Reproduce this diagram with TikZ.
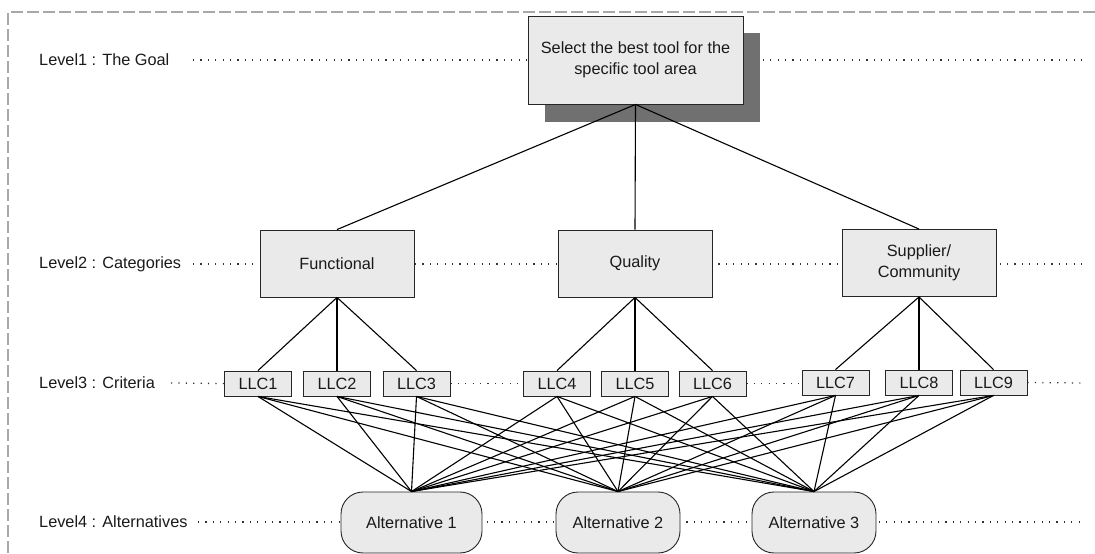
\documentclass[tikz,border=0pt]{standalone}
\usepackage{fontspec}
\setmainfont{Liberation Sans}
\usetikzlibrary{calc,backgrounds}
\definecolor{boxfill}{HTML}{EAEAEA}
\definecolor{shadowgray}{HTML}{707070}
\definecolor{framegray}{HTML}{A8A8A8}
\definecolor{inkgray}{HTML}{1A1A1A}

\begin{document}
\begin{tikzpicture}[x=1bp,y=-1bp,
  font=\fontsize{16.3bp}{20.5bp}\selectfont, text=inkgray,
  box/.style={draw=black!85, fill=boxfill, line width=0.9bp, inner sep=0pt, align=center},
  goalbox/.style={box, minimum width=215bp, minimum height=88bp},
  catbox/.style={box, minimum width=154bp, minimum height=67bp},
  crit/.style={box, minimum width=67bp, minimum height=25bp},
  altbox/.style={box, rounded corners=22bp, minimum height=61bp},
  lvl/.style={anchor=west, inner sep=0pt},
  link/.style={line width=1.1bp, black},
  guide/.style={line width=1.3bp, dash pattern=on 1.2bp off 6.2bp, black!80},
]
\useasboundingbox (0,0) rectangle (1095,554);

% page frame (top and left edges)
\draw[framegray, line width=1.5bp, dash pattern=on 12bp off 4bp] (1095,12) -- (8,12) -- (8,554);

% level captions
\node[lvl] (l1) at (39,60)  {Level1 : The Goal};
\node[lvl] (l2) at (39,264) {Level2 : Categories};
\node[lvl] (l3) at (39,383) {Level3 : Criteria};
\node[lvl] (l4) at (39,522) {Level4 : Alternatives};

% level 1: goal
\node[goalbox] (goal) at (635.5,60) {Select the best tool for the\\specific tool area};

% level 2: categories
\node[catbox] (func) at (337,263.5) {Functional};
\node[catbox] (qual) at (635,263.5) {Quality};
\node[catbox] (supp) at (919,263)   {Supplier/\\Community};

% level 3: criteria
\node[crit] (c1) at (258,383.5)   {LLC1};
\node[crit] (c2) at (337,383.5)   {LLC2};
\node[crit] (c3) at (416.5,383.5) {LLC3};
\node[crit] (c4) at (557,383.5)   {LLC4};
\node[crit] (c5) at (635,383.5)   {LLC5};
\node[crit] (c6) at (712.5,383.5) {LLC6};
\node[crit] (c7) at (835.5,382.5) {LLC7};
\node[crit] (c8) at (919,382.5)   {LLC8};
\node[crit] (c9) at (993.5,382.5) {LLC9};

% level 4: alternatives
\node[altbox, minimum width=141bp] (a1) at (411.5,522.5) {Alternative 1};
\node[altbox, minimum width=124bp] (a2) at (618,522.5)   {Alternative 2};
\node[altbox, minimum width=124bp] (a3) at (814,522.5)   {Alternative 3};

% dotted level guides and the goal's drop shadow, behind the boxes
\begin{scope}[on background layer]
  \draw[guide] (193,60)  -- (1083,60);
  \draw[guide] (193,264) -- (1083,264);
  \draw[guide] (171,383) -- (c1.west);
  \draw[guide] (c3.east) -- (c4.west);
  \draw[guide] (c6.east) -- (c7.west |- c6.east);
  \draw[guide] (c9.east) -- (1083,383);
  \draw[guide] (198,522) -- (1085,522);
  \fill[shadowgray] ($(goal.north west)+(17,17)$) rectangle ($(goal.south east)+(17,18)$);
\end{scope}

% hierarchy links
\foreach \c in {func,qual,supp} \draw[link] (goal.south) -- (\c.north);
\foreach \c in {c1,c2,c3} \draw[link] (func.south) -- (\c.north);
\foreach \c in {c4,c5,c6} \draw[link] (qual.south) -- (\c.north);
\foreach \c in {c7,c8,c9} \draw[link] (supp.south) -- (\c.north);
\foreach \c in {c1,c2,c3,c4,c5,c6,c7,c8,c9}
  \foreach \a in {a1,a2,a3}
    \draw[link] (\c.south) -- (\a.north);
\end{tikzpicture}
\end{document}
